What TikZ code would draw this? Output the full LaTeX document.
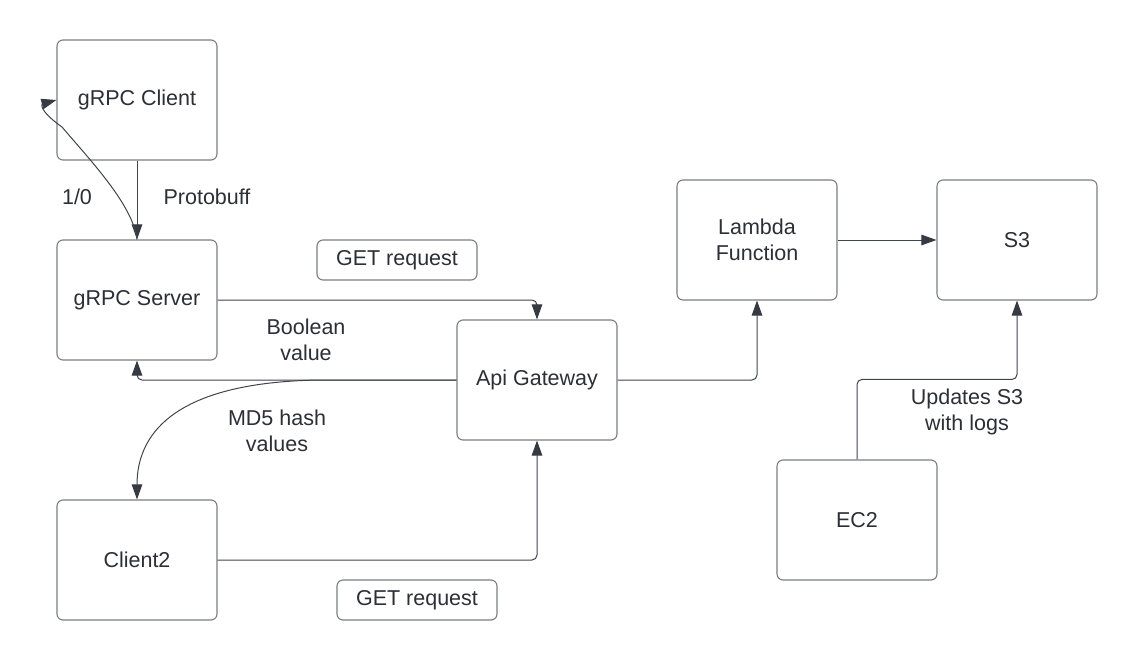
\documentclass[tikz,border=0pt]{standalone}
\usepackage{fontspec}
\setmainfont{Liberation Sans}
\usetikzlibrary{arrows.meta}
\definecolor{txt}{HTML}{2B2F36}
\definecolor{boxc}{HTML}{7A7E84}
\definecolor{linec}{HTML}{40454D}
\definecolor{tipc}{HTML}{363B43}
\begin{document}
\begin{tikzpicture}[x=1pt,y=-1pt,
  lbl/.style={text=txt, font=\fontsize{21.5pt}{26.5pt}\selectfont, align=center, inner sep=0pt},
  box/.style={lbl, draw=boxc, line width=1.1pt, rounded corners=6pt, minimum width=160pt, minimum height=120pt},
  tag/.style={lbl, draw=boxc, line width=1.1pt, rounded corners=6pt, minimum width=160pt, minimum height=40pt},
  conn/.style={draw=linec, line width=1pt, rounded corners=5pt, -{Triangle[length=15pt,width=10.5pt,fill=tipc,color=tipc]}}
]
\useasboundingbox (0,0) rectangle (1137,661);
\fill[white] (0,0) rectangle (1137,661);

\node[box] (cl)  at (137,100) {gRPC Client};
\node[box] (srv) at (137,300) {gRPC Server};
\node[box] (gw)  at (537,380) {Api Gateway};
\node[box] (c2)  at (137,560) {Client2};
\node[box] (lam) at (757,240) {Lambda\\Function};
\node[box] (s3)  at (1017,240) {S3};
\node[box] (ec2) at (857,520) {EC2};

\node[tag] (get1) at (397,260) {GET request};
\node[tag] (get2) at (417,600) {GET request};

\node[lbl] (l10)   at (77,197)  {1/0};
\node[lbl] (lpb)   at (207,197) {Protobuff};
\node[lbl] (lbool) at (306,340) {Boolean\\value};
\node[lbl] (lmd5)  at (277,431) {MD5 hash\\values};
\node[lbl] (lupd)  at (967,412) {Updates S3\\with logs};

\coordinate (loopmid) at (62,127);
\coordinate (md) at (320,380);

\draw[conn] (cl.south) -- (srv.north);
\draw[conn, rounded corners=0pt] (srv.north) .. controls (133,205) and (90,160) .. (loopmid)
   .. controls (38,110) and (42,104) .. (cl.west);
\draw[conn] (srv.east) -| (gw.north);
\draw[conn] (gw.west) -| (srv.south);
\draw[conn, rounded corners=0pt] (gw.west) -- (md) .. controls (180,382) and (137,430) .. (c2.north);
\draw[conn] (c2.east) -| (gw.south);
\draw[conn] (gw.east) -| (lam.south);
\draw[conn] (lam.east) -- (s3.west);
\draw[conn] (ec2.north) -- ++(0,-80) -| (s3.south);
\end{tikzpicture}
\end{document}
